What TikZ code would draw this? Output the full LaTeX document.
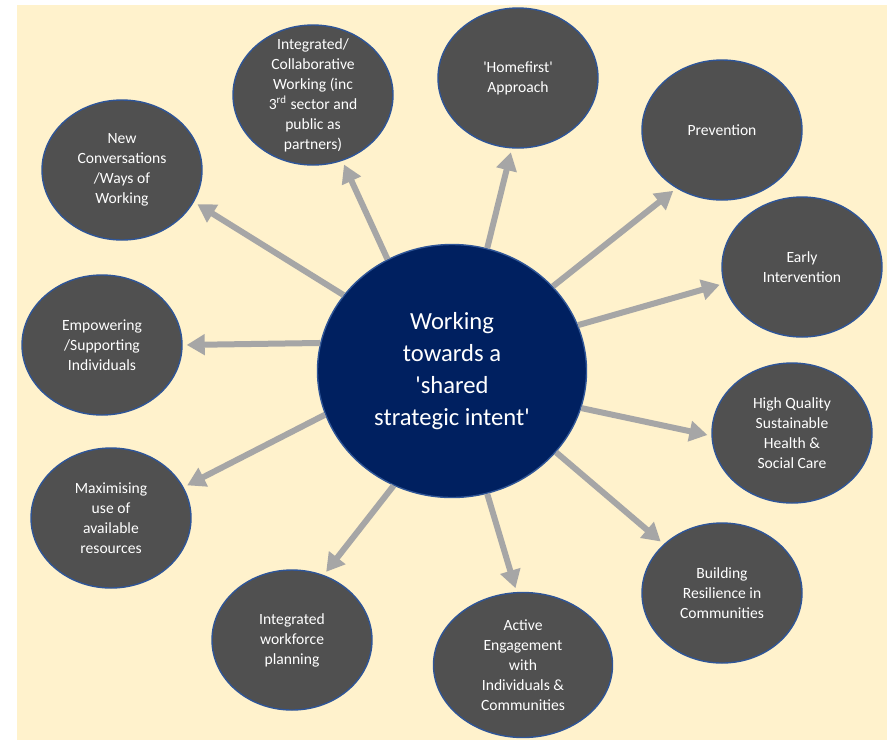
\documentclass[tikz,border=0pt]{standalone}
\usepackage{fontspec}
\setmainfont{Carlito}
\usetikzlibrary{
    arrows.meta,
    shapes.geometric
}
\definecolor{cream}{HTML}{FFF2CC}
\definecolor{bubblegray}{HTML}{505050}
\definecolor{rimblue}{HTML}{2F5597}
\definecolor{hubnavy}{HTML}{002060}
\definecolor{spokegray}{HTML}{A6A6A6}
\tikzset{
    bubble/.style={ellipse, fill=bubblegray, draw=rimblue, line width=0.7pt,
        minimum width=80pt, minimum height=70pt, inner sep=0pt},
    bubbletext/.style={text=white, align=center, font=\fontsize{7.8}{10}\selectfont},
    hubtext/.style={text=white, align=center, font=\fontsize{12.3}{16}\selectfont},
    spoke/.style={spokegray, line width=3pt, -{Triangle[length=9pt,width=10pt]}, shorten >=2pt}
}
\newcommand{\sq}{\textquotesingle}

\begin{document}
\begin{tikzpicture}[x=0.5pt, y=-0.5pt]
        \useasboundingbox (0,0) rectangle (887,740);
        \fill[cream] (17,5) rectangle (887,740);
        \node[ellipse, fill=hubnavy, draw=rimblue, line width=0.7pt, inner sep=0pt,
            minimum width=134.5pt, minimum height=126.5pt,
            label={[hubtext]center:{Working\\towards a\\\sq shared\\strategic intent\sq}}] (hub) at (452,371) {};
        \node[bubble, label={[bubbletext]center:{New\\Conversations\\/Ways of\\Working}}] (newc) at (122,170) {};
        \node[bubble, label={[bubbletext]center:{Integrated/\\Collaborative\\Working (inc\\3\textsuperscript{rd} sector and\\public as\\partners)}}] (collab) at (313,95) {};
        \node[bubble, label={[bubbletext]center:{\sq Homefirst\sq\\Approach}}] (home) at (518,78) {};
        \node[bubble, label={[bubbletext]center:{Prevention}}] (prev) at (722,130) {};
        \node[bubble, label={[bubbletext]center:{Early\\Intervention}}] (early) at (802,267) {};
        \node[bubble, label={[bubbletext]center:{High Quality\\Sustainable\\Health \&\\Social Care}}] (hq) at (792,433) {};
        \node[bubble, label={[bubbletext]center:{Building\\Resilience in\\Communities}}] (resil) at (722,593) {};
        \node[bubble, minimum width=89.5pt, minimum height=72.5pt,
            label={[bubbletext]center:{Active\\Engagement\\with\\Individuals \&\\Communities}}] (active) at (523,665) {};
        \node[bubble, label={[bubbletext]center:{Integrated\\workforce\\planning}}] (wfp) at (292,640) {};
        \node[bubble, label={[bubbletext]center:{Maximising\\use of\\available\\resources}}] (maxi) at (111,518) {};
        \node[bubble, label={[bubbletext]center:{Empowering\\/Supporting\\Individuals}}] (empow) at (102,345) {};
        \draw
        (hub.145) edge[spoke] (newc.-24)
        (hub.120) edge[spoke] (collab.-66)
        (hub.74) edge[spoke] (home.-95)
        (hub.40) edge[spoke] (prev.-128)
        (hub.20) edge[spoke] (early.-168)
        (hub.-16) edge[spoke] (hq.182)
        (hub.-38) edge[spoke] (resil.140)
        (hub.-74) edge[spoke] (active.95)
        (hub.-117) edge[spoke] (wfp.64)
        (hub.-161) edge[spoke] (maxi.23)
        (hub.168) edge[spoke] (empow.0);
    \end{tikzpicture}
\end{document}
